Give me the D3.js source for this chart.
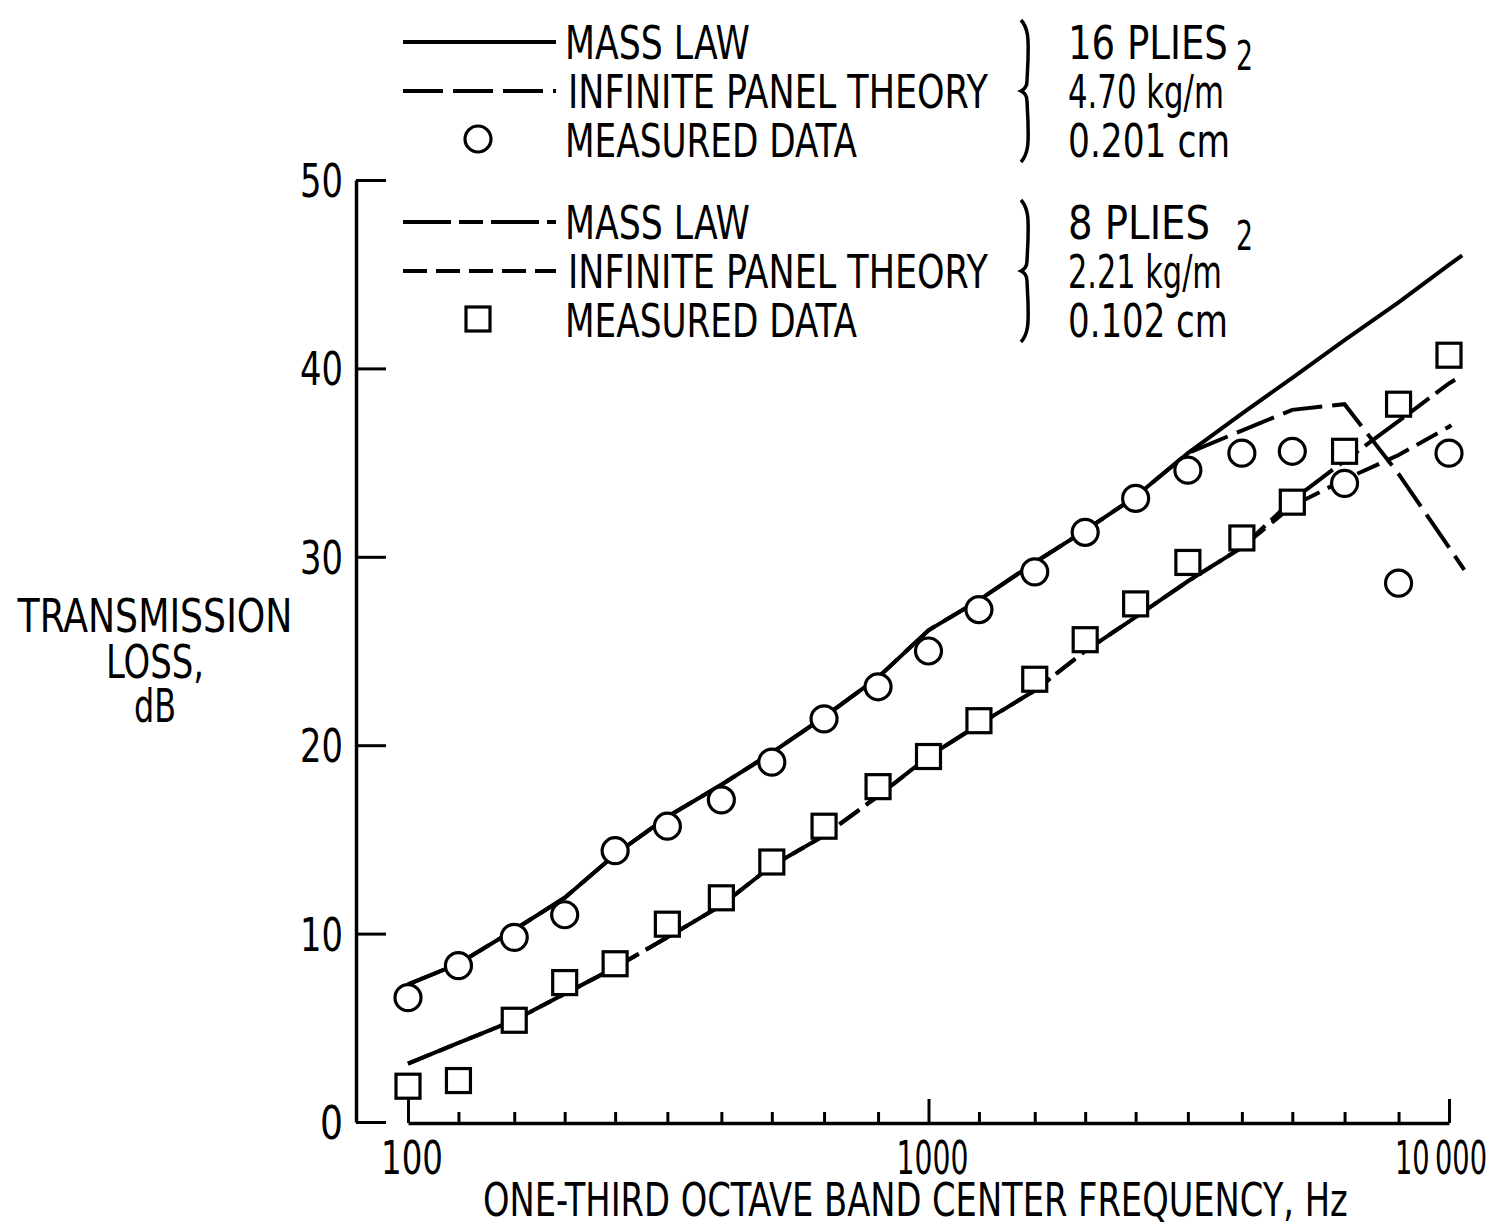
<!DOCTYPE html>
<html>
<head>
<meta charset="utf-8">
<script src="https://cdn.jsdelivr.net/npm/d3@7"></script>
<style>
  body { margin: 0; background: #fff; }
  text { font-family: "Liberation Sans Narrow", "DejaVu Sans Condensed", "Liberation Sans", sans-serif; fill: #000; }
</style>
</head>
<body>
<script>
// one-third octave band centre frequencies, Hz
const bands = [100, 125, 160, 200, 250, 315, 400, 500, 630, 800, 1000, 1250, 1600, 2000, 2500, 3150, 4000, 5000, 6300, 8000, 10000]

// measured transmission loss, dB
const measured16 = [6.6, 8.3, 9.8, 11.0, 14.4, 15.7, 17.1, 19.1, 21.4, 23.1, 25.0, 27.2, 29.2, 31.3, 33.1, 34.6, 35.5, 35.6, 33.9, 28.6, 35.5]
const measured8 = [1.9, 2.2, 5.4, 7.4, 8.4, 10.5, 11.9, 13.8, 15.7, 17.8, 19.4, 21.3, 23.5, 25.6, 27.5, 29.7, 31.0, 32.9, 35.6, 38.1, 40.7]

// theory curves: the bands plus one end point just past 10 kHz
const massLaw16Freq = bands.concat([10600])
const massLaw16 = [7.3, 8.4, 10.2, 11.9, 14.2, 16.2, 17.9, 19.6, 21.5, 23.6, 26.1, 27.7, 29.7, 31.4, 33.2, 35.5, 37.6, 39.5, 41.5, 43.5, 45.5, 46.0]
const infinite16Freq = bands.concat([10700])
const infinite16 = [7.3, 8.4, 10.2, 11.9, 14.2, 16.2, 17.9, 19.6, 21.5, 23.6, 26.1, 27.7, 29.7, 31.4, 33.2, 35.5, 36.7, 37.8, 38.1, 34.4, 30.5, 29.3]
const massLaw8Freq = bands.concat([10270])
const massLaw8 = [3.1, 4.2, 5.4, 6.8, 8.2, 9.8, 11.5, 13.6, 15.2, 17.3, 19.4, 21.1, 22.9, 25.0, 26.8, 28.7, 30.5, 33.0, 35.1, 37.2, 39.2, 39.4]
const infinite8Freq = bands.concat([10100])
const infinite8 = [3.1, 4.2, 5.4, 6.8, 8.2, 9.8, 11.5, 13.6, 15.2, 17.3, 19.4, 21.1, 22.9, 25.0, 26.8, 28.7, 30.5, 32.7, 34.1, 35.4, 36.9, 37.0]

const yTicks = [0, 10, 20, 30, 40, 50]
const xTickLabels = [100, 1000, 10000]
const xLabelText = ['100', '1000', '10\u2009000']

const width = 1497
const height = 1226
const fontSize = 46

const x = d3.scaleLog().domain([100, 10000]).range([408, 1449])
const y = d3.scaleLinear().domain([0, 50]).range([1122, 180])

const svg = d3.select('body').append('svg')
  .attr('width', width)
  .attr('height', height)

// narrow lettering: shrink the font to the wanted width, then stretch it back up
function drawText(parent, str, tx, ty, w, anchor = 'start', size = fontSize) {
  const t = parent.append('text')
    .attr('text-anchor', anchor)
    .style('font-size', size + 'px')
    .text(str)
  const k = w / t.node().getComputedTextLength()
  t.style('font-size', (size * k) + 'px')
    .attr('transform', `translate(${tx},${ty}) scale(1,${1 / k})`)
  return t
}

// axes
const yAxis = svg.append('g')
  .attr('transform', 'translate(356,0)')
  .call(d3.axisLeft(y).tickValues(yTicks).tickSizeInner(-30).tickSizeOuter(0).tickFormat(''))
const xAxis = svg.append('g')
  .attr('transform', 'translate(0,1123)')
  .call(d3.axisBottom(x).tickValues(bands).tickSizeInner(-11).tickSizeOuter(0).tickFormat(''))
xAxis.selectAll('.tick line').filter(d => xTickLabels.includes(d)).attr('y2', -24)

for (const g of [xAxis, yAxis]) {
  g.select('.domain').attr('stroke', '#000').attr('stroke-width', 3.5)
  g.selectAll('.tick line').attr('stroke', '#000').attr('stroke-width', 3)
}

const tickText = svg.append('g')
yTicks.forEach(v => drawText(tickText, String(v), 343, y(v) + 17, v === 0 ? 23 : 43, 'end'))
xTickLabels.forEach((v, i) => drawText(tickText, xLabelText[i], x(v) + (v === 10000 ? -8 : 4), 1174, [62, 72, 92][i], 'middle'))

// axis titles
drawText(svg, 'ONE-THIRD OCTAVE BAND CENTER FREQUENCY,  Hz', 483, 1216, 865)

const yTitle = [['TRANSMISSION', 632, 275], ['LOSS,', 678, 98], ['dB', 722, 42]]
yTitle.forEach(d => drawText(svg, d[0], 155, d[1], d[2], 'middle'))

// curves
const series = [
  { f: massLaw16Freq, v: massLaw16, dash: null },
  { f: infinite16Freq, v: infinite16, dash: '40,10' },
  { f: massLaw8Freq, v: massLaw8, dash: '48,8,24,8' },
  { f: infinite8Freq, v: infinite8, dash: '24,9' }
]
const line = d3.line().x(d => x(d[0])).y(d => y(d[1]))

svg.append('g').selectAll('path').data(series).join('path')
  .attr('d', s => line(d3.zip(s.f, s.v)))
  .attr('fill', 'none')
  .attr('stroke', '#000')
  .attr('stroke-width', 4)
  .attr('stroke-dasharray', s => s.dash)

// measured points
svg.append('g').selectAll('circle').data(d3.zip(bands, measured16)).join('circle')
  .attr('cx', d => x(d[0])).attr('cy', d => y(d[1])).attr('r', 13)
  .attr('fill', '#fff').attr('stroke', '#000').attr('stroke-width', 3.2)

const side = 24
svg.append('g').selectAll('rect').data(d3.zip(bands, measured8)).join('rect')
  .attr('x', d => x(d[0]) - side / 2).attr('y', d => y(d[1]) - side / 2)
  .attr('width', side).attr('height', side)
  .attr('fill', '#fff').attr('stroke', '#000').attr('stroke-width', 3.2)

// legend
const legend = svg.append('g')
const groups = [
  { top: 42, rows: [series[0], series[1]], marker: 'circle', info: ['16 PLIES', '4.70 kg/m', '0.201 cm'], infoLen: [160, 156, 162] },
  { top: 222, rows: [series[2], series[3]], marker: 'square', info: ['8 PLIES', '2.21 kg/m', '0.102 cm'], infoLen: [142, 154, 160] }
]
const rowGap = 49
const labels = [['MASS LAW', 185, 565], ['INFINITE PANEL THEORY', 420, 568], ['MEASURED DATA', 292, 565]]

groups.forEach(g => {
  g.rows.forEach((s, i) => {
    const ly = g.top + i * rowGap
    legend.append('line')
      .attr('x1', 403).attr('x2', 556).attr('y1', ly).attr('y2', ly)
      .attr('stroke', '#000').attr('stroke-width', 4)
      .attr('stroke-dasharray', s.dash)
  })
  const my = g.top + 2 * rowGap - 1
  if (g.marker === 'circle') {
    legend.append('circle').attr('cx', 478).attr('cy', my).attr('r', 13)
      .attr('fill', '#fff').attr('stroke', '#000').attr('stroke-width', 3.2)
  } else {
    legend.append('rect').attr('x', 478 - side / 2).attr('y', my - side / 2)
      .attr('width', side).attr('height', side)
      .attr('fill', '#fff').attr('stroke', '#000').attr('stroke-width', 3.2)
  }
  labels.forEach((l, i) => drawText(legend, l[0], l[2], g.top + 17 + i * rowGap, l[1]))
  // brace
  const b0 = g.top - 22
  const b1 = g.top + 2 * rowGap + 22
  const bm = (b0 + b1) / 2
  legend.append('path')
    .attr('d', `M1021,${b0} C1030,${b0 + 10} 1028,${b0 + 25} 1028,${b0 + 40} L1027,${bm - 10} Q1027,${bm - 3} 1021,${bm} Q1027,${bm + 3} 1027,${bm + 10} L1028,${b1 - 40} C1028,${b1 - 25} 1030,${b1 - 10} 1021,${b1}`)
    .attr('fill', 'none').attr('stroke', '#000').attr('stroke-width', 3.5)
  g.info.forEach((t, i) => drawText(legend, t, 1068, g.top + 17 + i * rowGap, g.infoLen[i]))
  // squared unit: superscript 2 after kg/m
  drawText(legend, '2', 1236, g.top + 28, 17, 'start', fontSize - 6)
})
</script>
</body>
</html>
